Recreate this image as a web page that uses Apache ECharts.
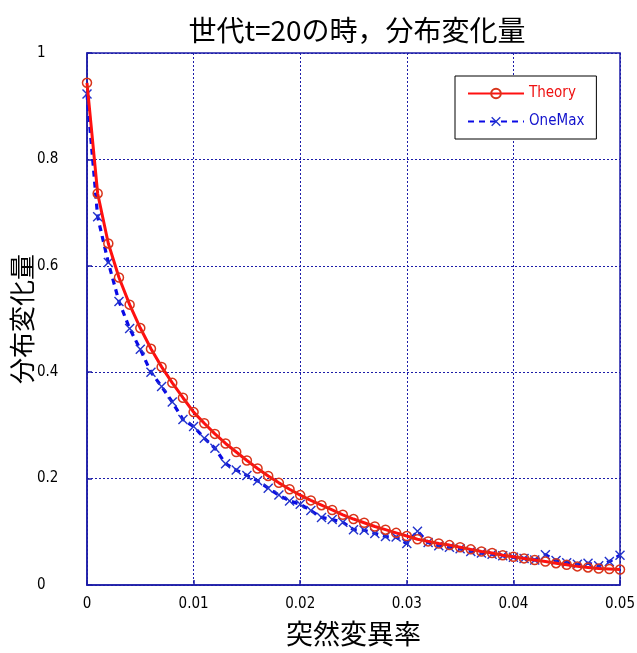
<!DOCTYPE html>
<html>
<head>
<meta charset="utf-8">
<script src="https://cdn.jsdelivr.net/npm/echarts@6/dist/echarts.min.js"></script>
<style>
  html, body { margin: 0; padding: 0; background: #ffffff; }
  #chart { width: 637px; height: 653px; }
</style>
</head>
<body>
<div id="chart"></div>
<script>
// Mutation rate (x) and distribution change after t = 20 generations
const mutationRate = [
  0.000, 0.001, 0.002, 0.003, 0.004, 0.005, 0.006, 0.007, 0.008, 0.009,
  0.010, 0.011, 0.012, 0.013, 0.014, 0.015, 0.016, 0.017, 0.018, 0.019,
  0.020, 0.021, 0.022, 0.023, 0.024, 0.025, 0.026, 0.027, 0.028, 0.029,
  0.030, 0.031, 0.032, 0.033, 0.034, 0.035, 0.036, 0.037, 0.038, 0.039,
  0.040, 0.041, 0.042, 0.043, 0.044, 0.045, 0.046, 0.047, 0.048, 0.049,
  0.050
];

const theory = [
  0.944, 0.736, 0.642, 0.578, 0.527, 0.483, 0.444, 0.410, 0.380, 0.352,
  0.325, 0.304, 0.284, 0.266, 0.250, 0.234, 0.219, 0.205, 0.192, 0.180,
  0.169, 0.159, 0.150, 0.141, 0.132, 0.124, 0.117, 0.110, 0.104, 0.098,
  0.092, 0.086, 0.082, 0.078, 0.075, 0.071, 0.067, 0.063, 0.060, 0.056,
  0.053, 0.050, 0.047, 0.044, 0.041, 0.038, 0.035, 0.033, 0.031, 0.030,
  0.029
];

const oneMax = [
  0.923, 0.692, 0.606, 0.533, 0.482, 0.443, 0.400, 0.373, 0.344, 0.311,
  0.298, 0.276, 0.257, 0.228, 0.216, 0.206, 0.196, 0.182, 0.169, 0.158,
  0.152, 0.140, 0.127, 0.123, 0.118, 0.104, 0.103, 0.097, 0.091, 0.090,
  0.078, 0.101, 0.080, 0.074, 0.071, 0.068, 0.063, 0.060, 0.058, 0.055,
  0.052, 0.050, 0.047, 0.057, 0.046, 0.042, 0.039, 0.041, 0.036, 0.044,
  0.056
];

const seriesNames = ['Theory', 'OneMax'];
const xTickLabels = ['0', '0.01', '0.02', '0.03', '0.04', '0.05'];
const yTickLabels = ['0', '0.2', '0.4', '0.6', '0.8', '1'];

const navy = '#1c1ca8';
const jpFont = '"Noto Sans CJK JP", sans-serif';
const tickFont = '"Liberation Sans Narrow", "DejaVu Sans Condensed", "Liberation Sans", sans-serif';

const pairs = (ys) => mutationRate.map((x, i) => [x, ys[i]]);

// thin "x" cross marker drawn as a filled outline
const crossPath = 'path://M0,1L1,0L5,4L9,0L10,1L6,5L10,9L9,10L5,6L1,10L0,9L4,5Z';

const chart = echarts.init(document.getElementById('chart'), null, { renderer: 'canvas' });

chart.setOption({
  backgroundColor: '#ffffff',
  animation: false,
  title: {
    text: '世代t=20の時，分布変化量',
    left: 352,
    textAlign: 'center',
    top: 11,
    textStyle: { fontFamily: jpFont, fontSize: 28, fontWeight: 'normal', color: '#000' }
  },
  legend: {
    orient: 'vertical',
    left: 455,
    top: 76,
    padding: [10, 12, 10, 12],
    itemGap: 13,
    itemWidth: 56,
    itemHeight: 12,
    backgroundColor: '#ffffff',
    borderColor: '#000000',
    borderWidth: 1,
    borderRadius: 0,
    textStyle: { fontFamily: tickFont, fontSize: 15 },
    data: [
      { name: seriesNames[0], textStyle: { color: '#ee1111' } },
      { name: seriesNames[1], textStyle: { color: '#1111cc' } }
    ]
  },
  grid: {
    left: 87, right: 17, top: 53, bottom: 68,
    outerBoundsMode: 'none',
    containLabel: false,
    show: true,
    borderColor: navy,
    borderWidth: 1.5,
    backgroundColor: 'transparent'
  },
  xAxis: {
    type: 'value',
    min: 0, max: 0.05, interval: 0.01,
    name: '突然変異率',
    nameLocation: 'middle',
    nameGap: 35,
    nameMoveOverlap: false,
    nameTextStyle: { fontFamily: jpFont, fontSize: 27, color: '#000' },
    axisLine: { show: true, lineStyle: { color: navy, width: 1.5 } },
    axisTick: { show: true, inside: true, length: 5, lineStyle: { color: navy, width: 1.5 } },
    axisLabel: {
      margin: 12,
      fontFamily: tickFont, fontSize: 15, color: '#000',
      formatter: (v) => xTickLabels[Math.round(v / 0.01)]
    },
    splitLine: { show: true, lineStyle: { color: navy, width: 1, type: [2, 2] } }
  },
  yAxis: {
    type: 'value',
    min: 0, max: 1, interval: 0.2,
    name: '分布変化量',
    nameLocation: 'middle',
    nameGap: 52,
    nameRotate: 90,
    nameMoveOverlap: false,
    nameTextStyle: { fontFamily: jpFont, fontSize: 26, color: '#000' },
    axisLine: { show: true, lineStyle: { color: navy, width: 1.5 } },
    axisTick: { show: true, inside: true, length: 5, lineStyle: { color: navy, width: 1.5 } },
    axisLabel: {
      margin: 50,
      align: 'left',
      fontFamily: tickFont, fontSize: 15, color: '#000',
      formatter: (v) => yTickLabels[Math.round(v / 0.2)]
    },
    splitLine: { show: true, lineStyle: { color: navy, width: 1, type: [2, 2] } }
  },
  series: [
    {
      name: seriesNames[1],
      type: 'line',
      data: pairs(oneMax),
      symbol: crossPath,
      symbolSize: 10,
      showAllSymbol: true,
      itemStyle: { color: '#2233cc', borderWidth: 0 },
      lineStyle: { color: '#0a0ae6', width: 3.2, type: [6, 5] },
      z: 3
    },
    {
      name: seriesNames[0],
      type: 'line',
      data: pairs(theory),
      symbol: 'circle',
      symbolSize: 9,
      showAllSymbol: true,
      itemStyle: { color: 'rgba(255,255,255,0)', borderColor: '#d8341a', borderWidth: 1.5 },
      lineStyle: { color: '#ff1010', width: 3 },
      z: 4
    }
  ]
});
</script>
</body>
</html>
